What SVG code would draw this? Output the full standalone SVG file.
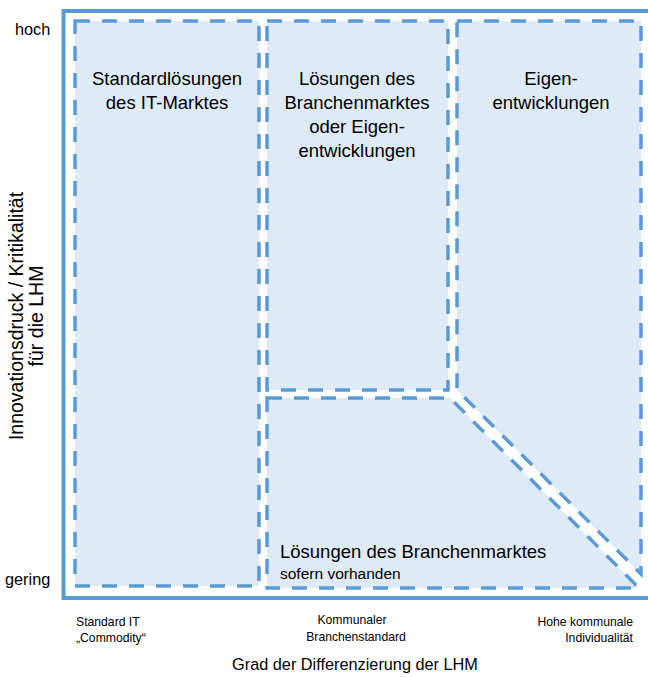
<svg xmlns="http://www.w3.org/2000/svg" width="648" height="677" viewBox="0 0 648 677">
<style>
.frame{fill:none;stroke:#5B9BD5;stroke-width:4}
.box{fill:#DEEBF7;stroke:#5B9BD5;stroke-width:3.5;stroke-dasharray:15 12;stroke-linejoin:miter}
text{font-family:"Liberation Sans",Arial,sans-serif;fill:#000}
.lbl{font-size:18.5px;text-anchor:middle}
.ax{font-size:16.3px}
.tick{font-size:12.2px}
</style>
<rect width="648" height="677" fill="#fff"/>
<g id="frame"><rect class="frame" x="63.5" y="11" width="590" height="587"/></g>
<g id="box-standard">
<rect class="box" x="75" y="21" width="184" height="565"/>
<text class="lbl" x="167" y="85">Standardlösungen</text>
<text class="lbl" x="167" y="109">des IT-Marktes</text>
</g>
<g id="box-branche-oder-eigen">
<rect class="box" x="267" y="21" width="181" height="369"/>
<text class="lbl" x="357" y="84.5">Lösungen des</text>
<text class="lbl" x="357" y="108.5">Branchenmarktes</text>
<text class="lbl" x="357" y="132.5">oder Eigen-</text>
<text class="lbl" x="357" y="156.5">entwicklungen</text>
</g>
<g id="box-eigen">
<polygon class="box" points="457,21 641,21 641,574 457,390"/>
<text class="lbl" x="551" y="84.5">Eigen-</text>
<text class="lbl" x="551" y="108.5">entwicklungen</text>
</g>
<g id="box-branche">
<polygon class="box" points="267,398 450,398 639,588 267,588"/>
<text x="280" y="558" font-size="18.5">Lösungen des Branchenmarktes</text>
<text x="280" y="579" font-size="15.5">sofern vorhanden</text>
</g>
<g id="axis-y">
<text class="ax" x="15" y="35">hoch</text>
<text class="ax" x="5" y="585">gering</text>
<g transform="translate(0,316) rotate(-90)" style="font-size:19.5px;text-anchor:middle">
<text x="0" y="23">Innovationsdruck / Kritikalität</text>
<text x="0" y="43">für die LHM</text>
</g>
</g>
<g id="axis-x">
<text class="tick" x="76" y="626">Standard IT</text>
<text class="tick" x="76" y="642">„Commodity“</text>
<text class="tick" x="352" y="624" text-anchor="middle">Kommunaler</text>
<text class="tick" x="356" y="641" text-anchor="middle">Branchenstandard</text>
<text class="tick" x="633" y="626" text-anchor="end">Hohe kommunale</text>
<text class="tick" x="633" y="642" text-anchor="end">Individualität</text>
<text class="ax" x="355" y="670" text-anchor="middle">Grad der Differenzierung der LHM</text>
</g>
<g id="connectors"/>
</svg>
